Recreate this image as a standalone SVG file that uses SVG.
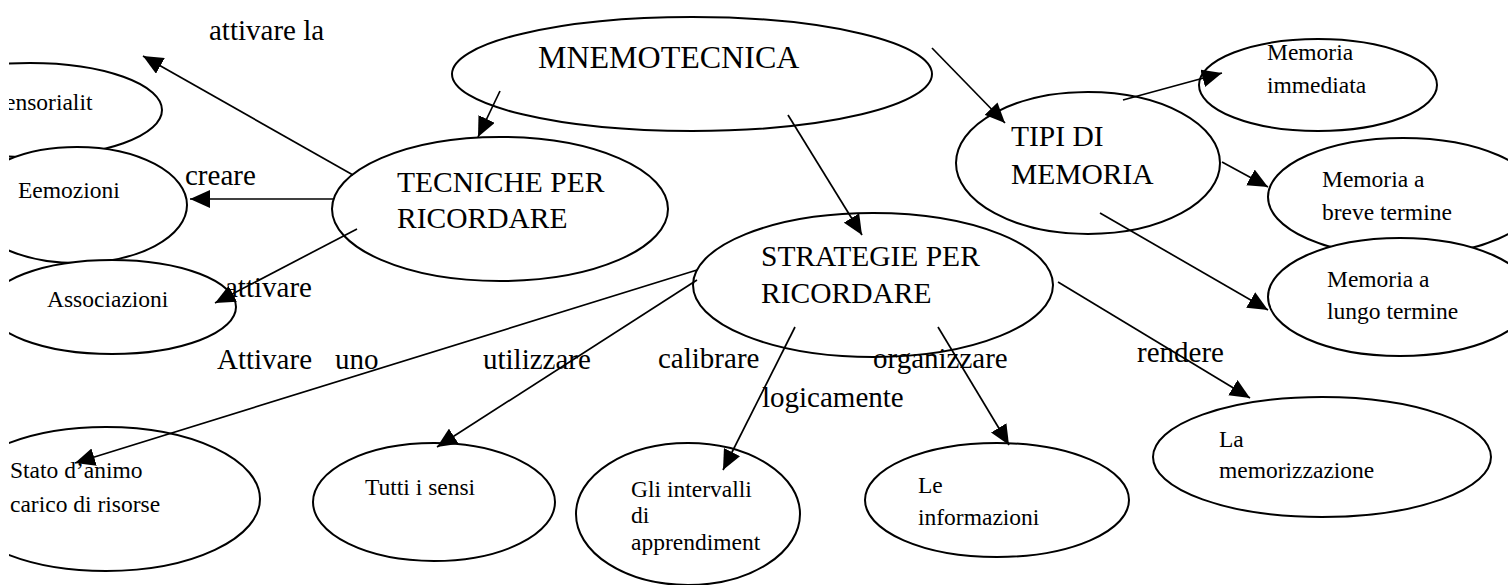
<svg xmlns="http://www.w3.org/2000/svg" width="1508" height="585" viewBox="0 0 1508 585">
<style>
text { font-family: "Liberation Serif", "Times New Roman", serif; fill: #000; }
.n ellipse { fill: #fff; stroke: #000; stroke-width: 2; }
.big { font-size: 29.5px; }
.sm { font-size: 23.5px; }
.lbl { font-size: 29px; }
.c line { stroke: #000; stroke-width: 1.7; marker-end: url(#ah); }
</style>
<defs>
<marker id="ah" viewBox="0 0 20 18" refX="20" refY="9" markerWidth="20" markerHeight="18" markerUnits="userSpaceOnUse" orient="auto">
<path d="M0,0 L20,9 L0,18 z" fill="#000"/>
</marker>
<clipPath id="clipL"><rect x="9" y="0" width="1499" height="585"/></clipPath>
</defs>
<rect width="1508" height="585" fill="#fff"/>
<g id="nodes" clip-path="url(#clipL)">
<g id="n-sensorialita" class="n"><ellipse cx="30" cy="110" rx="132" ry="47"/><text class="sm" x="5" y="110">ensorialit</text></g>
<g id="n-emozioni" class="n"><ellipse cx="77" cy="205" rx="110" ry="58"/><text class="sm" x="18" y="198">Eemozioni</text></g>
<g id="n-associazioni" class="n"><ellipse cx="112" cy="307" rx="124" ry="47"/><text class="sm" x="47" y="307">Associazioni</text></g>
<g id="n-mnemotecnica" class="n"><ellipse cx="692" cy="74" rx="240" ry="57"/><text x="538" y="68" style="font-size:32px">MNEMOTECNICA</text></g>
<g id="n-tecniche" class="n"><ellipse cx="500" cy="209" rx="168" ry="72"/><text class="big" x="397" y="192">TECNICHE PER</text><text class="big" x="397" y="228">RICORDARE</text></g>
<g id="n-strategie" class="n"><ellipse cx="873" cy="285" rx="180" ry="72"/><text class="big" x="761" y="266">STRATEGIE PER</text><text class="big" x="761" y="303">RICORDARE</text></g>
<g id="n-tipi" class="n"><ellipse cx="1088" cy="163" rx="132" ry="71"/><text class="big" x="1011" y="146">TIPI DI</text><text class="big" x="1011" y="184">MEMORIA</text></g>
<g id="n-immediata" class="n"><ellipse cx="1318" cy="85" rx="119" ry="46"/><text class="sm" x="1267" y="60">Memoria</text><text class="sm" x="1267" y="93">immediata</text></g>
<g id="n-breve" class="n"><ellipse cx="1403" cy="197" rx="135" ry="59"/><text class="sm" x="1322" y="187">Memoria a</text><text class="sm" x="1322" y="220">breve termine</text></g>
<g id="n-lungo" class="n"><ellipse cx="1400" cy="297" rx="132" ry="59"/><text class="sm" x="1327" y="287">Memoria a</text><text class="sm" x="1327" y="319">lungo termine</text></g>
<g id="n-stato" class="n"><ellipse cx="106" cy="499" rx="154" ry="72"/><text class="sm" x="10" y="478">Stato d’animo</text><text class="sm" x="10" y="512">carico di risorse</text></g>
<g id="n-tutti" class="n"><ellipse cx="434" cy="502" rx="121" ry="59"/><text class="sm" x="365" y="495">Tutti i sensi</text></g>
<g id="n-intervalli" class="n"><ellipse cx="688" cy="514" rx="112" ry="71"/><text class="sm" x="631" y="497">Gli intervalli</text><text class="sm" x="631" y="523">di</text><text class="sm" x="631" y="550">apprendiment</text></g>
<g id="n-informazioni" class="n"><ellipse cx="997" cy="500" rx="132" ry="57"/><text class="sm" x="918" y="493">Le</text><text class="sm" x="918" y="525">informazioni</text></g>
<g id="n-memorizzazione" class="n"><ellipse cx="1322" cy="457" rx="169" ry="60"/><text class="sm" x="1219" y="447">La</text><text class="sm" x="1219" y="478">memorizzazione</text></g>
</g>
<g id="connectors" class="c">
<line x1="353" y1="175" x2="143" y2="56"/>
<line x1="333" y1="199" x2="190" y2="199"/>
<line x1="357" y1="229" x2="215" y2="303"/>
<line x1="500" y1="91" x2="478" y2="137"/>
<line x1="788" y1="115" x2="862" y2="235"/>
<line x1="932" y1="48" x2="1005" y2="123"/>
<line x1="1123" y1="100" x2="1222" y2="73"/>
<line x1="1222" y1="162" x2="1268" y2="187"/>
<line x1="1100" y1="213" x2="1268" y2="310"/>
<line x1="697" y1="270" x2="75" y2="463"/>
<line x1="697" y1="280" x2="437" y2="447"/>
<line x1="795" y1="327" x2="723" y2="470"/>
<line x1="938" y1="327" x2="1009" y2="445"/>
<line x1="1058" y1="282" x2="1250" y2="398"/>
</g>
<g id="labels">
<text class="lbl" x="209" y="40">attivare la</text>
<text class="lbl" x="185" y="185">creare</text>
<text class="lbl" x="225" y="297">attivare</text>
<text class="lbl" x="217" y="369">Attivare<tspan x="335">uno</tspan></text>
<text class="lbl" x="483" y="369">utilizzare</text>
<text class="lbl" x="658" y="368">calibrare</text>
<text class="lbl" x="873" y="368">organizzare</text>
<text class="lbl" x="762" y="407">logicamente</text>
<text class="lbl" x="1137" y="362">rendere</text>
</g>
</svg>
